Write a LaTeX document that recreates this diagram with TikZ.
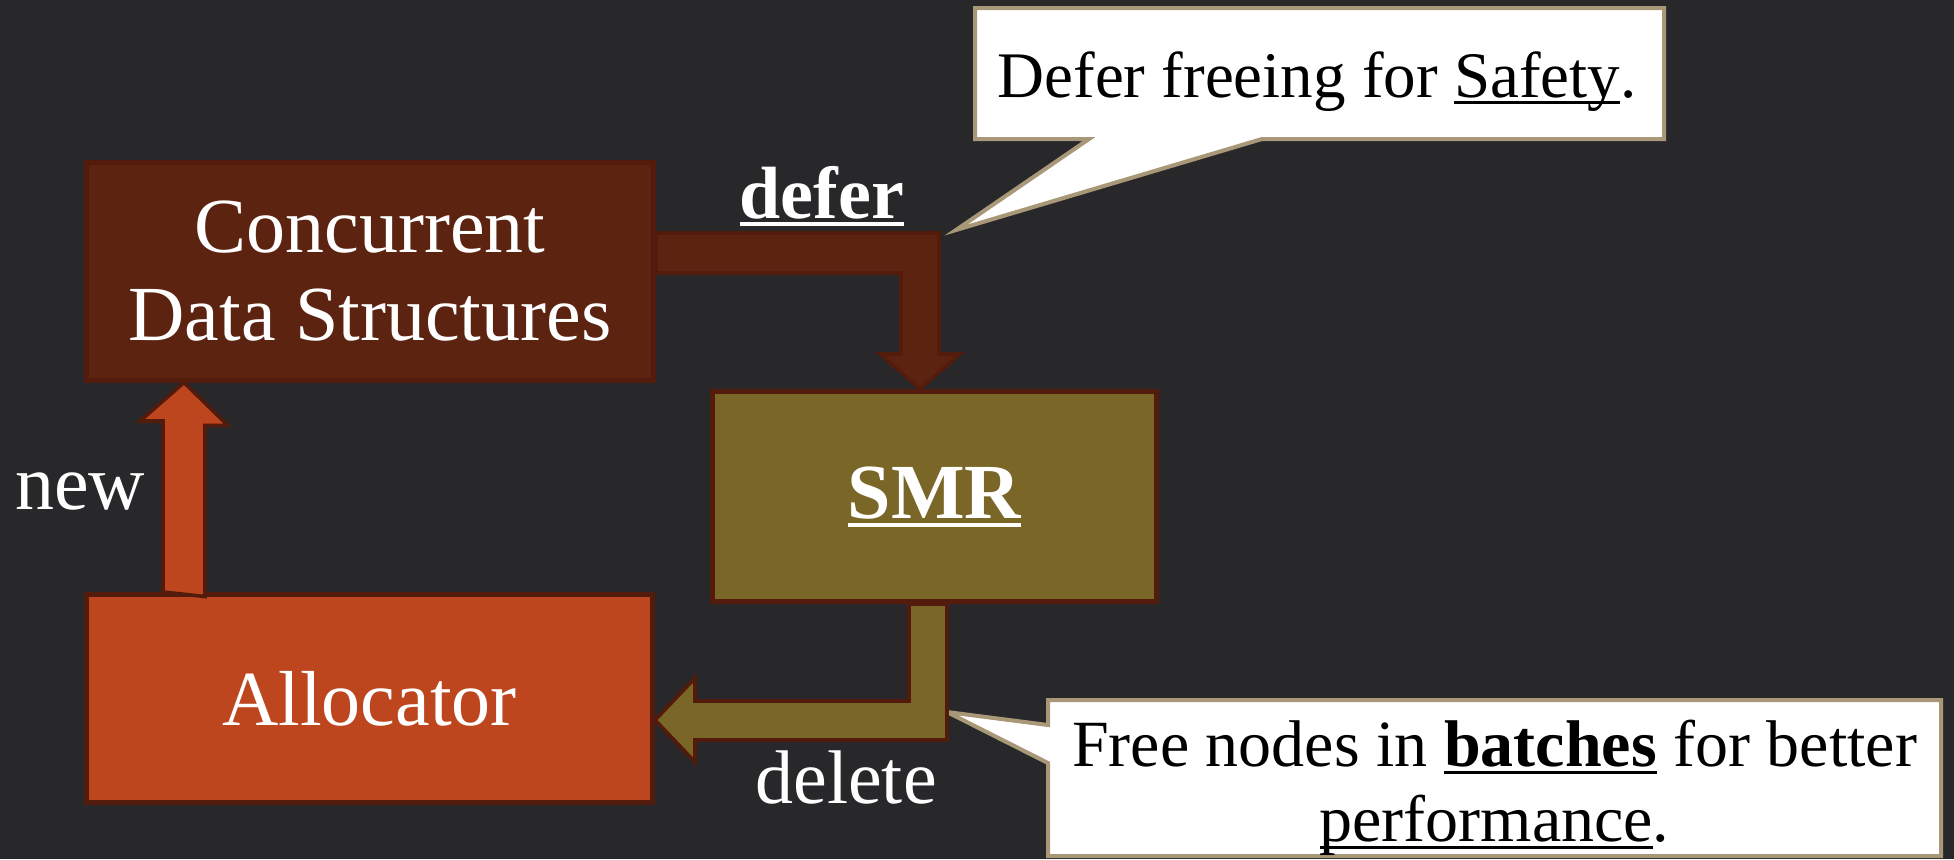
\documentclass[tikz,border=0pt]{standalone}
\usepackage{fontspec}
\setmainfont{Liberation Serif}
\usetikzlibrary{calc,backgrounds}

\definecolor{bgdark}{HTML}{28282B}
\definecolor{cdsfill}{HTML}{5C2311}
\definecolor{edge}{HTML}{531B0C}
\definecolor{smrfill}{HTML}{7A6627}
\definecolor{allocfill}{HTML}{BD461E}
\definecolor{calloutedge}{HTML}{A89878}

% underline at a fixed depth, running through descenders
\newsavebox\ulbox
\newcommand\ulined[1]{\sbox\ulbox{#1}\rlap{\rule[-0.11em]{\wd\ulbox}{0.05em}}\usebox\ulbox}

\begin{document}
\begin{tikzpicture}[x=0.5pt,y=-0.5pt,
  block/.style={draw=edge, line width=2.5pt, inner sep=0pt, align=center,
    text=white, font=\fontsize{39}{44}\selectfont},
  blockarrow/.style={draw=edge, line width=1.8pt, line join=miter},
  label/.style={text=white, inner sep=0pt, anchor=base},
  callout/.style={fill=white, draw=calloutedge, line width=2pt, line join=miter},
  callouttext/.style={text=black, inner sep=0pt, align=center}]

\useasboundingbox (0,0) rectangle (1954,859);

% boxes
\node[block, fill=cdsfill, minimum width=283.5pt, minimum height=109pt]
  (cds) at (370,271) {Concurrent\\Data Structures};
\node[block, fill=smrfill, minimum width=222pt, minimum height=105pt]
  (smr) at (934.5,496.5) {\textbf{\ulined{SMR}}};
\node[block, fill=allocfill, minimum width=283pt, minimum height=104pt]
  (alloc) at (369.5,698.5) {Allocator};

% defer: from the structures to SMR
\coordinate (dtip) at ($(smr.north west)+(210,0)$);
\draw[blockarrow, fill=cdsfill]
  (cds.east |- 0,233) -- ($(dtip)+(19,-156)$) -- ($(dtip)+(19,-35)$)
  -- ($(dtip)+(40,-35)$) -- (dtip) -- ($(dtip)+(-40,-35)$)
  -- ($(dtip)+(-19,-35)$) -- ($(dtip)+(-19,-116)$) -- (cds.east |- 0,273) -- cycle;
\node[label, font=\fontsize{37}{40}\selectfont\bfseries] (deferlbl) at (822,218) {\ulined{defer}};

% new: from the allocator to the structures
\coordinate (ntip) at ($(alloc.north west)+(100,0)$);
\draw[blockarrow, fill=allocfill]
  ($(ntip)+(-21,0)$) -- ++(0,-171) -- ++(-23,0) -- (ntip |- cds.south)
  -- ++(44,43) -- ++(-23,0) -- ++(0,171) -- cycle;
\node[label, font=\fontsize{39}{44}\selectfont] (newlbl) at (80,509) {new};

% delete: from SMR back to the allocator
\coordinate (xtip) at (alloc.east |- 0,720);
\draw[blockarrow, fill=smrfill]
  ($(smr.south west)+(199,0)$) -- ++(38,0) -- ++(0,136) -- (695,740)
  -- (695,762) -- (xtip) -- (695,678) -- (695,701) -- ($(smr.south west)+(199,97)$) -- cycle;
\node[label, font=\fontsize{38}{42}\selectfont] (dellbl) at (846,803) {delete};

% callout texts
\node[callouttext, anchor=base, font=\fontsize{32.5}{36}\selectfont]
  (safety) at (1317,97) {Defer freeing for \ulined{Safety}.};
\node[callouttext, font=\fontsize{33}{37.5}\selectfont]
  (batch) at (1494.5,788) {Free nodes in \ulined{\textbf{batches}} for better\\\ulined{performance}.};

\coordinate (c1tip) at (956,230);
\coordinate (c2tip) at (947,712);

\begin{pgfonlayer}{background}
  \fill[bgdark] (0,0) rectangle (1954,859);
  % speech bubble for the deferral note
  \draw[callout] (975,8) -- (1664,8) -- (1664,139) -- (1262,139)
    -- (c1tip) -- (1089,139) -- (975,139) -- cycle;
  % speech bubble for the batching note
  \draw[callout] (1048,700) -- (1941,700) -- (1941,856) -- (1048,856)
    -- (1048,763) -- (c2tip) -- (1048,725) -- cycle;
\end{pgfonlayer}
\end{tikzpicture}
\end{document}
